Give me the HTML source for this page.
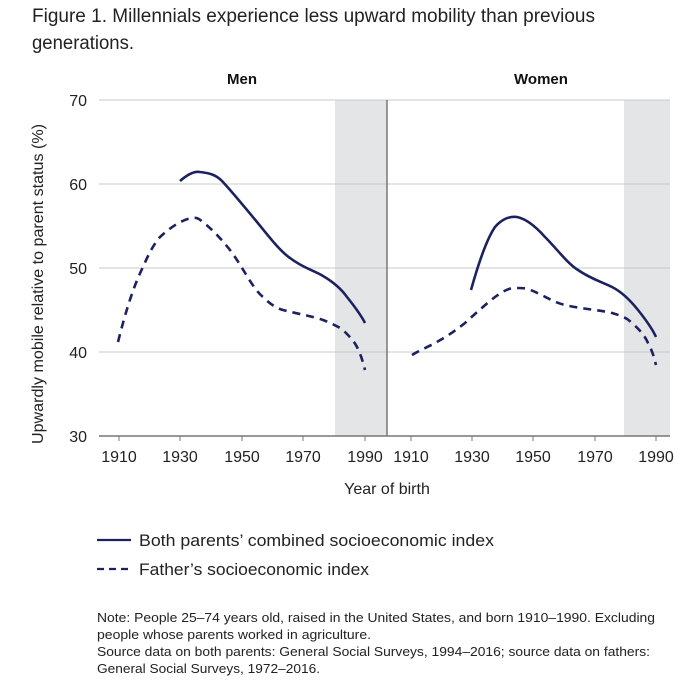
<!DOCTYPE html>
<html><head><meta charset="utf-8"><style>
html,body{margin:0;padding:0;background:#fff;}
svg{display:block;font-family:"Liberation Sans",sans-serif;}
</style></head><body>
<svg width="689" height="680" viewBox="0 0 689 680" xmlns="http://www.w3.org/2000/svg">
<text x="32" y="22" font-size="19" fill="#222" textLength="563" lengthAdjust="spacingAndGlyphs">Figure 1. Millennials experience less upward mobility than previous</text>
<text x="32" y="49" font-size="19" fill="#222" textLength="102" lengthAdjust="spacingAndGlyphs">generations.</text>
<text x="242" y="84" font-size="15" font-weight="bold" text-anchor="middle" fill="#111">Men</text>
<text x="541" y="84" font-size="15" font-weight="bold" text-anchor="middle" fill="#111">Women</text>
<rect x="335" y="100" width="52" height="336" fill="#e4e5e7"/>
<rect x="624" y="100" width="46" height="336" fill="#e4e5e7"/>
<g stroke="#c8c8c8" stroke-width="1">
<line x1="99" y1="100" x2="670" y2="100"/><line x1="99" y1="184" x2="670" y2="184"/>
<line x1="99" y1="268" x2="670" y2="268"/><line x1="99" y1="352" x2="670" y2="352"/>
</g>
<line x1="387" y1="100" x2="387" y2="436" stroke="#666" stroke-width="1.3"/>
<line x1="99" y1="436" x2="670" y2="436" stroke="#777" stroke-width="1.5"/>
<g stroke="#777" stroke-width="1">
<line x1="119" y1="436" x2="119" y2="441"/><line x1="180" y1="436" x2="180" y2="441"/><line x1="242" y1="436" x2="242" y2="441"/><line x1="303" y1="436" x2="303" y2="441"/><line x1="365" y1="436" x2="365" y2="441"/>
<line x1="411" y1="436" x2="411" y2="441"/><line x1="472" y1="436" x2="472" y2="441"/><line x1="533" y1="436" x2="533" y2="441"/><line x1="595" y1="436" x2="595" y2="441"/><line x1="656" y1="436" x2="656" y2="441"/>
</g>
<g font-size="16" fill="#222" text-anchor="end">
<text x="87" y="106">70</text><text x="87" y="190">60</text><text x="87" y="274">50</text><text x="87" y="358">40</text><text x="87" y="442">30</text>
</g>
<g font-size="16" fill="#222" text-anchor="middle">
<text x="119" y="462">1910</text><text x="180" y="462">1930</text><text x="242" y="462">1950</text><text x="303" y="462">1970</text><text x="365" y="462">1990</text>
<text x="411" y="462">1910</text><text x="472" y="462">1930</text><text x="533" y="462">1950</text><text x="595" y="462">1970</text><text x="656" y="462">1990</text>
<text x="387" y="494">Year of birth</text>
</g>
<text transform="translate(43,284) rotate(-90)" font-size="16" fill="#222" text-anchor="middle" textLength="320" lengthAdjust="spacingAndGlyphs">Upwardly mobile relative to parent status (%)</text>
<g fill="none" stroke="#1c2260" stroke-width="2.6">
<path d="M180,181 C188,174 195,171 200,172 C210,173 216,175 222,181 C235,195 246,209 257,222 C270,238 280,251 290,258 C303,268 315,271 323,276 C335,283 342,290 347,297 C355,307 361,315 365,323"/>
<path stroke-dasharray="8,6" d="M118,342 C126,310 134,285 143,267 C149,253 154,244 160,237 C172,226 183,219 193,218 C198,217 200,220 203,222 C214,231 222,240 230,250 C243,267 252,288 263,297 C270,304 276,308 283,310 C298,314 312,316 323,320 C333,324 339,327 343,330 C350,337 354,341 357,347 C361,355 363,362 365,370"/>
<path d="M471,290 C478,265 486,240 495,227 C502,219 510,216 517,217 C527,219 537,228 545,237 C557,249 567,263 578,270 C591,279 602,282 612,287 C622,292 630,300 638,310 C646,320 652,328 656,337"/>
<path stroke-dasharray="8,6" d="M412,355 C420,350 428,347 435,343 C446,337 455,331 465,323 C476,313 486,304 495,297 C502,292 508,288 515,288 C520,288 524,288 528,289 C542,294 552,302 565,305 C582,309 600,310 612,313 C622,316 627,318 632,323 C640,330 645,336 648,343 C652,350 654,357 656,365"/>
</g>
<line x1="97" y1="540" x2="131" y2="540" stroke="#1c2260" stroke-width="2.2"/>
<line x1="97" y1="569" x2="131" y2="569" stroke="#1c2260" stroke-width="2.2" stroke-dasharray="7,5"/>
<g font-size="17" fill="#222">
<text x="139" y="546" textLength="355" lengthAdjust="spacingAndGlyphs">Both parents’ combined socioeconomic index</text>
<text x="139" y="575" textLength="230" lengthAdjust="spacingAndGlyphs">Father’s socioeconomic index</text>
</g>
<g font-size="13" fill="#222">
<text x="97" y="622" textLength="558" lengthAdjust="spacingAndGlyphs">Note: People 25–74 years old, raised in the United States, and born 1910–1990. Excluding</text>
<text x="97" y="639" textLength="274" lengthAdjust="spacingAndGlyphs">people whose parents worked in agriculture.</text>
<text x="97" y="656" textLength="553" lengthAdjust="spacingAndGlyphs">Source data on both parents: General Social Surveys, 1994–2016; source data on fathers:</text>
<text x="97" y="673" textLength="223" lengthAdjust="spacingAndGlyphs">General Social Surveys, 1972–2016.</text>
</g>
</svg>
</body></html>
